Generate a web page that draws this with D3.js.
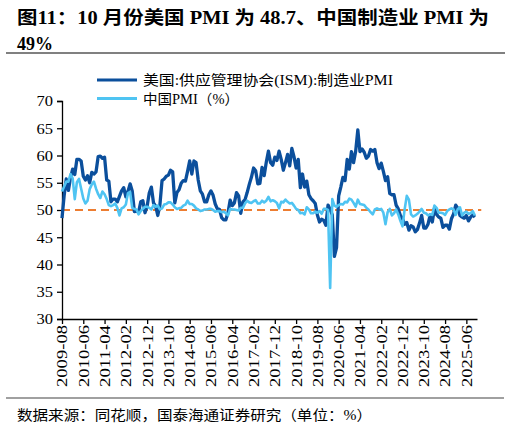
<!DOCTYPE html>
<html>
<head>
<meta charset="utf-8">
<script src="https://cdn.jsdelivr.net/npm/d3@7"></script>
<style>
  body { margin: 0; background: #fff; }
  svg { display: block; }
  text { font-family: "Liberation Serif", "Times New Roman", "Noto Sans CJK SC", serif; }
</style>
</head>
<body>
<div id="chart"></div>
<script>
// 数据：2009-08 到 2025-10，按月
var tickLabels = ["2009-08","2010-06","2011-04","2012-02","2012-12","2013-10","2014-08","2015-06",
    "2016-04","2017-02","2017-12","2018-10","2019-08","2020-06","2021-04","2022-02",
    "2022-12","2023-10","2024-08","2025-06"];

var usPmi = [
    48.5, 52.6, 55.7, 53.6, 55.9,
    57.5, 56.5, 59.3, 59.3, 59.0, 56.2, 55.5, 56.3, 55.0, 56.9, 56.6, 57.0,
    59.8, 59.9, 59.5, 59.7, 55.5, 55.3, 51.5, 52.0, 52.0, 51.5, 52.5, 53.5,
    54.1, 52.4, 53.4, 54.8, 53.5, 49.7, 49.8, 49.6, 51.5, 51.7, 49.5, 50.7,
    53.1, 54.2, 51.3, 50.7, 49.0, 50.9, 55.4, 55.7, 56.2, 56.4, 57.3, 57.0,
    51.3, 53.2, 53.7, 54.9, 55.4, 55.3, 57.1, 59.0, 56.6, 59.0, 58.7, 55.5,
    53.5, 52.9, 51.5, 51.5, 52.8, 53.5, 52.7, 51.1, 50.2, 50.1, 48.6, 48.2,
    48.2, 49.5, 51.8, 50.8, 51.3, 53.2, 52.6, 49.4, 51.5, 51.9, 53.2, 54.7,
    56.0, 57.7, 57.2, 54.8, 54.9, 57.8, 56.3, 58.8, 60.8, 58.7, 58.2, 59.7,
    59.1, 60.8, 59.3, 57.3, 58.7, 60.2, 58.1, 61.3, 59.8, 57.7, 59.3, 54.1,
    56.6, 54.2, 55.3, 52.8, 52.1, 51.7, 51.2, 49.1, 47.8, 48.3, 48.1, 47.2,
    50.9, 50.1, 49.1, 41.5, 43.1, 52.6, 54.2, 56.0, 55.4, 59.3, 57.5, 60.7,
    58.7, 60.8, 64.7, 60.7, 61.2, 60.6, 59.5, 59.9, 61.1, 60.8, 61.1, 58.7,
    57.6, 58.6, 57.1, 55.4, 56.1, 53.0, 52.8, 52.8, 50.9, 50.2, 49.0, 48.4,
    47.4, 47.7, 46.3, 47.1, 46.9, 46.0, 46.4, 47.6, 49.0, 46.7, 46.7, 47.4,
    49.1, 47.8, 50.3, 49.2, 48.7, 48.5, 46.8, 47.2, 47.2, 46.5, 48.4, 49.3,
    50.9, 50.3, 49.0, 48.7, 48.5, 49.0, 48.0, 48.7, 49.1, 48.7
];

var cnPmi = [
    53.4, 54.3, 55.2, 55.2, 56.6,
    55.8, 52.0, 55.1, 55.7, 53.9, 52.1, 51.2, 51.7, 53.8, 54.7, 55.2, 53.9,
    52.9, 52.2, 53.4, 52.9, 52.0, 50.9, 50.7, 50.9, 51.2, 50.4, 49.0, 50.3,
    50.5, 51.0, 53.1, 53.3, 50.4, 50.2, 50.1, 49.2, 49.8, 50.2, 50.6, 50.6,
    50.4, 50.1, 50.9, 50.6, 50.8, 50.1, 50.3, 51.0, 51.1, 51.4, 51.4, 51.0,
    50.5, 50.2, 50.3, 50.4, 50.8, 51.0, 51.7, 51.1, 51.1, 50.8, 50.3, 50.1,
    49.8, 49.9, 50.1, 50.1, 50.2, 50.2, 50.0, 49.7, 49.8, 49.8, 49.6, 49.7,
    49.4, 49.0, 50.2, 50.1, 50.1, 50.0, 49.9, 50.4, 50.4, 51.2, 51.7, 51.4,
    51.3, 51.6, 51.8, 51.2, 51.2, 51.7, 51.4, 51.7, 52.4, 51.6, 51.8, 51.6,
    51.3, 50.3, 51.5, 51.4, 51.9, 51.5, 51.2, 51.3, 50.8, 50.2, 50.0, 49.4,
    49.5, 49.2, 50.5, 50.1, 49.4, 49.4, 49.7, 49.5, 49.8, 49.3, 50.2, 50.2,
    50.0, 35.7, 52.0, 50.8, 50.6, 50.9, 51.1, 51.0, 51.5, 51.4, 52.1, 51.9,
    51.3, 50.6, 51.9, 51.1, 51.0, 50.9, 50.4, 50.1, 49.6, 49.2, 50.1, 50.3,
    50.1, 50.2, 49.5, 47.4, 49.6, 50.2, 49.0, 49.4, 50.1, 49.2, 48.0, 47.0,
    50.1, 52.6, 51.9, 49.2, 48.8, 49.0, 49.3, 49.7, 50.2, 49.5, 49.4, 49.0,
    49.2, 49.1, 50.8, 50.4, 49.5, 49.5, 49.4, 49.1, 49.8, 50.1, 50.3, 50.1,
    49.1, 50.2, 50.5, 49.0, 49.5, 49.7, 49.3, 49.4, 49.8, 49.0
];

var yTicks = [30, 35, 40, 45, 50, 55, 60, 65, 70];
var refLine = 50;

var W = 511, H = 428;
var plot = {left: 62, right: 477, top: 101, bottom: 319};

var svg = d3.select("#chart").append("svg")
    .attr("width", W)
    .attr("height", H);

svg.append("rect").attr("width", W).attr("height", H).attr("fill", "#fff");

// 标题
svg.append("text")
    .attr("x", 17).attr("y", 24)
    .attr("font-size", 18).attr("font-weight", "bold")
    .attr("textLength", 472).attr("lengthAdjust", "spacingAndGlyphs")
    .text("图11：10 月份美国 PMI 为 48.7、中国制造业 PMI 为");
svg.append("text")
    .attr("x", 17).attr("y", 50)
    .attr("font-size", 18).attr("font-weight", "bold")
    .text("49%");

svg.append("line")
    .attr("x1", 6).attr("x2", 505).attr("y1", 53).attr("y2", 53)
    .attr("stroke", "#808080").attr("stroke-width", 2);

// 比例尺
var x = d3.scaleLinear().domain([0, 195]).range([plot.left, plot.right]);
var y = d3.scaleLinear().domain([30, 70]).range([plot.bottom, plot.top]);

// y 轴
var yAxis = svg.append("g")
    .attr("transform", "translate(" + plot.left + ",0)")
    .call(d3.axisLeft(y).tickValues(yTicks).tickSize(5).tickPadding(4));
yAxis.select(".domain").attr("stroke", "#000").attr("stroke-width", 1.3);
yAxis.selectAll(".tick line").attr("stroke", "#000").attr("stroke-width", 1.3);
yAxis.selectAll("text")
    .attr("font-size", 14).attr("fill", "#000")
    .attr("font-family", "Liberation Serif, Times New Roman, serif")
    .attr("textLength", 16.5).attr("lengthAdjust", "spacingAndGlyphs")
    .attr("dy", "0.35em");

// x 轴
var xAxis = svg.append("g")
    .attr("transform", "translate(0," + plot.bottom + ")")
    .call(d3.axisBottom(x)
        .tickValues(d3.range(0, 195, 10))
        .tickFormat(function(d, i) { return tickLabels[i]; })
        .tickSize(5).tickSizeOuter(0));
xAxis.select(".domain").attr("stroke", "#000").attr("stroke-width", 1.3);
xAxis.selectAll(".tick line").attr("stroke", "#000").attr("stroke-width", 1.3);
xAxis.selectAll("text")
    .attr("font-size", 14).attr("fill", "#000")
    .attr("font-family", "Liberation Serif, Times New Roman, serif")
    .attr("text-anchor", "end")
    .attr("textLength", 62).attr("lengthAdjust", "spacingAndGlyphs")
    .attr("transform", "rotate(-90)")
    .attr("x", -6).attr("y", 0).attr("dy", "0.35em");

// 50 参考线
svg.append("line")
    .attr("x1", x(0)).attr("x2", x(197))
    .attr("y1", y(refLine)).attr("y2", y(refLine))
    .attr("stroke", "#ED7D31").attr("stroke-width", 2)
    .attr("stroke-dasharray", "8,5");

var line = d3.line()
    .x(function(d, i) { return x(i); })
    .y(function(d) { return y(d); });

svg.append("path")
    .datum(usPmi)
    .attr("d", line)
    .attr("fill", "none")
    .attr("stroke", "#0B4F9C")
    .attr("stroke-width", 3.3)
    .attr("stroke-linejoin", "round");

svg.append("path")
    .datum(cnPmi)
    .attr("d", line)
    .attr("fill", "none")
    .attr("stroke", "#4FC4F2")
    .attr("stroke-width", 2.6)
    .attr("stroke-linejoin", "round");

// 图例
var legend = [
    {name: "美国:供应管理协会(ISM):制造业PMI", color: "#0B4F9C", w: 3, len: 250},
    {name: "中国PMI（%）", color: "#4FC4F2", w: 3, len: 96}
];
legend.forEach(function(d, i) {
    var ly = 80 + i * 18.5;
    svg.append("line")
        .attr("x1", 97).attr("x2", 137).attr("y1", ly).attr("y2", ly)
        .attr("stroke", d.color).attr("stroke-width", d.w);
    svg.append("text")
        .attr("x", 143).attr("y", ly + 5)
        .attr("font-size", 14).attr("fill", "#000")
        .attr("textLength", d.len).attr("lengthAdjust", "spacingAndGlyphs")
        .text(d.name);
});

// 来源
svg.append("line")
    .attr("x1", 6).attr("x2", 504).attr("y1", 398).attr("y2", 398)
    .attr("stroke", "#808080").attr("stroke-width", 1.5);
svg.append("text")
    .attr("x", 17).attr("y", 420)
    .attr("font-size", 14).attr("fill", "#000")
    .attr("textLength", 355).attr("lengthAdjust", "spacingAndGlyphs")
    .text("数据来源：同花顺，国泰海通证券研究（单位：%）");
</script>
</body>
</html>
